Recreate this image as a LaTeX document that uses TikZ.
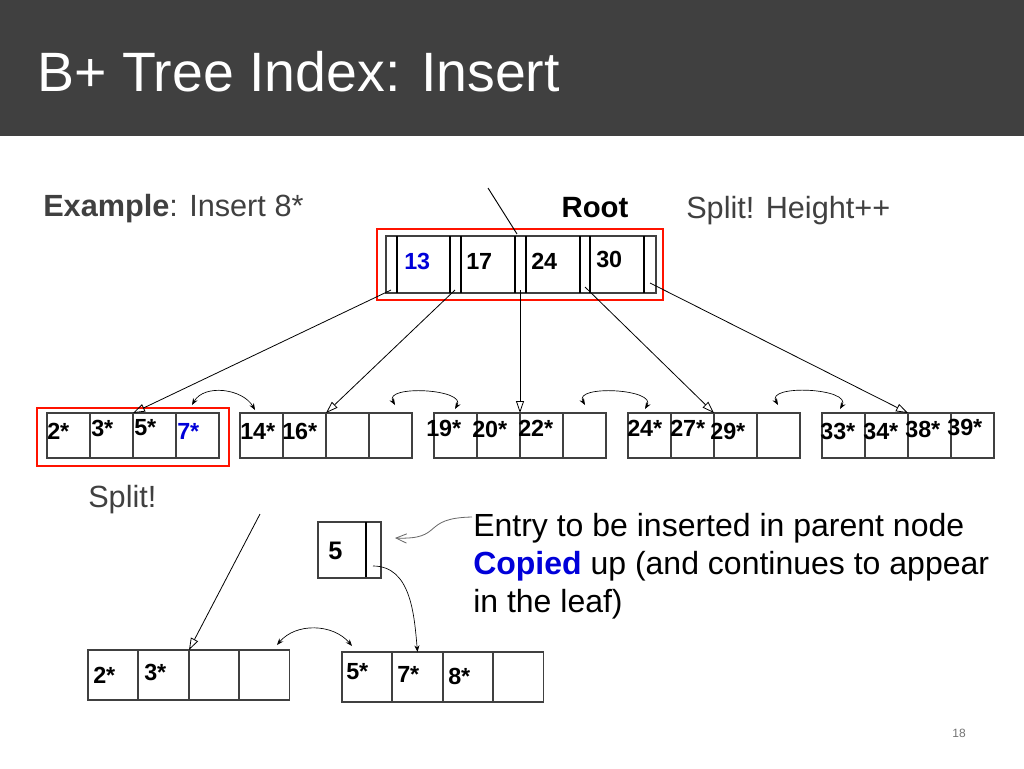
\documentclass[tikz,border=0pt]{standalone}
\usepackage{fontspec}
\setmainfont{Liberation Sans}
\usetikzlibrary{arrows.meta}
\begin{document}
\begin{tikzpicture}[x=0.75pt,y=-0.75pt,
  cell/.style={draw=black!75,line width=0.8pt,minimum width=43*0.75pt,minimum height=45*0.75pt,inner sep=0,outer sep=0,anchor=north west},
  bcell/.style={cell,minimum width=50*0.75pt,minimum height=50*0.75pt},
  key/.style={font=\bfseries\fontsize{17.5}{17.5}\selectfont,inner sep=0,anchor=west},
  ptr/.style={-{Triangle[open,length=9pt,width=6pt]},line width=0.6pt},
  sib/.style={{Stealth[length=5pt]}-{Stealth[length=5pt]},line width=0.5pt},
  redbox/.style={draw=red!85!orange,line width=2.2pt},
  body/.style={font=\fontsize{24}{28}\selectfont,anchor=west,inner sep=0}]
\useasboundingbox (0,0) rectangle (1024,768);
\fill[black!75] (0,0) rectangle (1024,136);
\node[anchor=west,text=white,font=\fontsize{41.6}{42}\selectfont,inner sep=0] (title) at (37,72) {B+ Tree Index: Insert};
\node[anchor=west,text=black!75,font=\fontsize{23}{24}\selectfont,inner sep=0] (ex) at (43,209) {\textbf{Example}: Insert 8*};
\node[font=\bfseries\fontsize{22}{22}\selectfont,inner sep=0] (rootlbl) at (595,208) {Root};
\node[anchor=west,text=black!75,font=\fontsize{23}{24}\selectfont,inner sep=0] (hh) at (686,211) {Split! Height++};
% root node
\draw[black!75,line width=0.8pt] (386,236) rectangle (656,293);
\foreach \x in {397,450,461,515,526,580,590,644} \draw[line width=0.8pt] (\x,236) -- (\x,293);
\coordinate (p0) at (391,290); \coordinate (p1) at (455,290); \coordinate (p2) at (520,290);
\coordinate (p3) at (585,287); \coordinate (p4) at (650,283);
\node[key,text=blue!85!black] (k13) at (404,261) {13};
\node[key] (k17) at (466,261) {17};
\node[key] (k24) at (531,261) {24};
\node[key] (k30) at (596,259) {30};
\draw[redbox] (377,229) rectangle (663,300);
\coordinate (rin) at (488,188); \coordinate (rtop) at (517,234);
\draw[line width=0.7pt] (rin) -- (rtop);
% leaves
\foreach \l/\x in {1/47,2/240,3/434,4/628,5/822}{
  \foreach \i in {0,1,2,3}{\node[cell] (L\l c\i) at ({\x+43*\i},413) {};}}
\draw[redbox] (37,408) rectangle (229,466);
\foreach \t/\x/\y/\c in {2*/47/431/black,3*/91/428/black,5*/134/428/black,7*/177/431/blue!85!black,
  14*/240/431/black,16*/282/431/black,19*/426/428/black,20*/472/429/black,22*/518/428/black,
  24*/627/428/black,27*/670/428/black,29*/710/431/black,33*/820/431/black,34*/863/431/black,38*/905/429/black,39*/947/427/black}
  \node[key,text=\c] at (\x,\y) {\t};
\draw[ptr] (p0) -- (L1c2.north west);
\draw[ptr] (p1) -- (L2c2.north west);
\draw[ptr] (p2) -- (L3c2.north west);
\draw[ptr] (p3) -- (L4c2.north west);
\draw[ptr] (p4) -- (L5c2.north west);
\draw[sib] (192,405) to[out=60,in=120] (255,410);
\draw[sib] (395,405) to[out=120,in=60] (455,409);
\draw[sib] (585,405) to[out=120,in=60] (645,409);
\draw[sib] (778,405) to[out=120,in=60] (840,409);
\node[anchor=west,text=black!75,font=\fontsize{23}{24}\selectfont,inner sep=0] (sp) at (88,500) {Split!};
% bottom
\draw[black!75,line width=0.8pt] (318,522) rectangle (381,578);
\draw[line width=0.8pt] (366,522) -- (366,577);
\node[key,font=\bfseries\fontsize{19}{19}\selectfont] (k5) at (328,551) {5};
\foreach \i in {0,1,2,3}{\node[bcell] (A\i) at ({88+50.5*\i},650) {};}
\foreach \i in {0,1,2,3}{\node[bcell] (B\i) at ({342+50.5*\i},652) {};}
\foreach \t/\x/\y in {2*/93/675,3*/144/672,5*/346/672,7*/397/674,8*/448/676}
  \node[key] at (\x,\y) {\t};
\coordinate (sin) at (260,514);
\draw[ptr] (sin) -- (A2.north west);
\draw[-{Stealth[length=5pt]},line width=0.5pt] (373,566) to[out=0,in=95] (B1.north);
\draw[sib] (277,645) to[out=50,in=130] (352,646);
\draw[-{Straight Barb[length=8pt,width=7pt]},black!60,line width=0.6pt] (472,517) .. controls (420,518) and (445,540) .. (395,538);
\node[body] (t1) at (473,528) {Entry to be inserted in parent node};
\node[body] (t2) at (473,566) {\textbf{\color{blue!85!black}Copied} up (and continues to appear};
\node[body] (t3) at (473,604) {in the leaf)};
\node[text=black!55,font=\fontsize{9}{9}\selectfont] (pg) at (959,733) {18};
\end{tikzpicture}
\end{document}
